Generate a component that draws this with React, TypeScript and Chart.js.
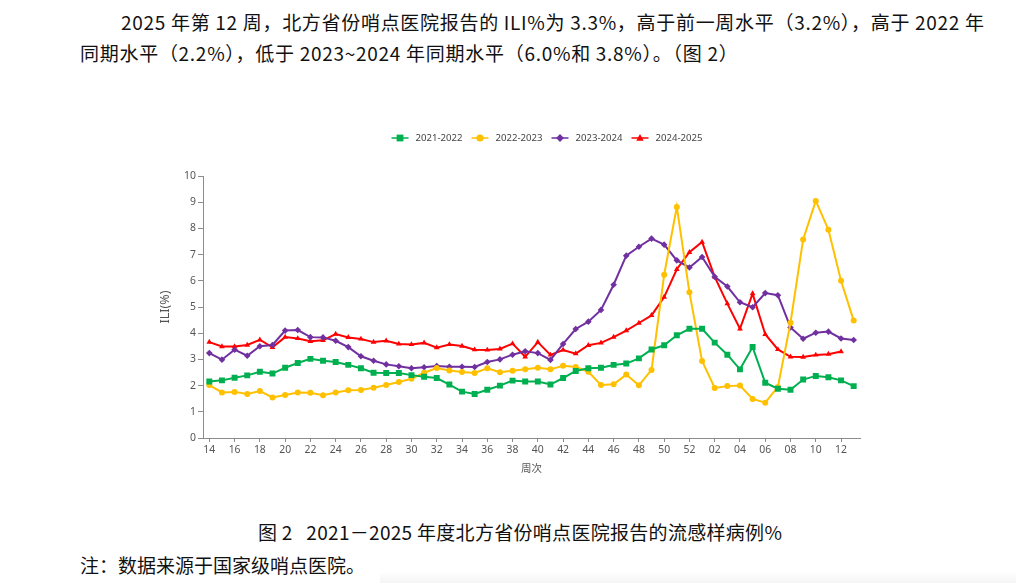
import React, { useEffect, useRef } from 'react';
import { Chart, registerables } from 'chart.js';

Chart.register(...registerables);

// Surveillance weeks: week 14 of the first year through week 13 of the next
const weeks = [
  '14', '15', '16', '17', '18', '19', '20', '21', '22', '23', '24', '25', '26',
  '27', '28', '29', '30', '31', '32', '33', '34', '35', '36', '37', '38', '39',
  '40', '41', '42', '43', '44', '45', '46', '47', '48', '49', '50', '51', '52',
  '01', '02', '03', '04', '05', '06', '07', '08', '09', '10', '11', '12', '13',
];

// ILI% by season
const ili2021 = [
  2.16, 2.2, 2.3, 2.39, 2.53, 2.46, 2.68, 2.86, 3.02, 2.95, 2.9, 2.79, 2.66,
  2.49, 2.48, 2.48, 2.4, 2.34, 2.29, 2.04, 1.77, 1.68, 1.84, 2.0, 2.19, 2.16,
  2.16, 2.04, 2.29, 2.56, 2.66, 2.68, 2.79, 2.84, 3.04, 3.38, 3.54, 3.92, 4.17,
  4.17, 3.64, 3.18, 2.62, 3.47, 2.11, 1.88, 1.84, 2.23, 2.37, 2.32, 2.2, 1.98,
];
const ili2022 = [
  2.02, 1.74, 1.76, 1.68, 1.79, 1.55, 1.64, 1.74, 1.73, 1.63, 1.74, 1.82, 1.83,
  1.92, 2.02, 2.14, 2.26, 2.49, 2.67, 2.58, 2.52, 2.48, 2.66, 2.51, 2.57, 2.62,
  2.68, 2.62, 2.76, 2.71, 2.53, 2.02, 2.05, 2.42, 2.01, 2.6, 6.23, 8.82, 5.56,
  2.94, 1.91, 1.98, 2.0, 1.49, 1.35, 1.95, 4.4, 7.58, 9.05, 7.95, 6.0, 4.48,
];
const ili2023 = [
  3.24, 2.99, 3.37, 3.14, 3.5, 3.55, 4.1, 4.12, 3.85, 3.84, 3.71, 3.47, 3.12,
  2.95, 2.81, 2.74, 2.66, 2.7, 2.75, 2.72, 2.72, 2.71, 2.9, 3.0, 3.18, 3.31,
  3.24, 2.98, 3.59, 4.16, 4.44, 4.89, 5.85, 6.96, 7.3, 7.61, 7.38, 6.78, 6.51,
  6.91, 6.15, 5.78, 5.18, 4.99, 5.53, 5.45, 4.22, 3.79, 4.02, 4.06, 3.8, 3.74,
];
const ili2024 = [
  3.66, 3.49, 3.49, 3.55, 3.75, 3.46, 3.85, 3.8, 3.69, 3.73, 3.97, 3.84, 3.78,
  3.66, 3.71, 3.59, 3.57, 3.63, 3.45, 3.57, 3.51, 3.37, 3.36, 3.4, 3.6, 3.1,
  3.66, 3.17, 3.36, 3.22, 3.54, 3.63, 3.85, 4.1, 4.39, 4.68, 5.38, 6.44, 7.09,
  7.48, 6.15, 5.13, 4.17, 5.51, 3.96, 3.38, 3.1, 3.09, 3.17, 3.2, 3.3, null,
];

const seasonLabels = ['2021-2022', '2022-2023', '2023-2024', '2024-2025'];
const seasonColors = ['#00B050', '#FFC000', '#7030A0', '#FF0000'];
const seasonMarkers = ['rect', 'circle', 'rectRot', 'triangle'];
const seasonMarkerSizes = [4.2, 3, 3.3, 3.3];

const yMin = 0;
const yMax = 10;
const yStep = 1;

const chartFont = '"Noto Sans", "Noto Sans CJK SC", sans-serif';
const cjkFont = '"Noto Sans CJK SC", "Noto Sans", sans-serif';

function drawLegendMarker(
  ctx: CanvasRenderingContext2D,
  style: string,
  x: number,
  y: number,
  r: number,
) {
  ctx.beginPath();
  if (style === 'rect') {
    const s = r * Math.SQRT1_2;
    ctx.rect(x - s, y - s, 2 * s, 2 * s);
  } else if (style === 'circle') {
    ctx.arc(x, y, r, 0, Math.PI * 2);
  } else if (style === 'rectRot') {
    ctx.moveTo(x, y - r);
    ctx.lineTo(x + r, y);
    ctx.lineTo(x, y + r);
    ctx.lineTo(x - r, y);
    ctx.closePath();
  } else {
    ctx.moveTo(x, y - r);
    ctx.lineTo(x + r * 0.95, y + r * 0.7);
    ctx.lineTo(x - r * 0.95, y + r * 0.7);
    ctx.closePath();
  }
  ctx.fill();
}

// Legend entries drawn as "line + marker + label", centred above the plot
const lineLegend = {
  id: 'lineLegend',
  afterDraw(chart: any) {
    const ctx: CanvasRenderingContext2D = chart.ctx;
    const sets = chart.data.datasets;
    const lineLen = 17;
    const textGap = 7;
    const itemGap = 9;
    ctx.save();
    ctx.font = `9.6px ${chartFont}`;
    ctx.textBaseline = 'middle';
    const widths = sets.map(
      (ds: any) => lineLen + textGap + ctx.measureText(ds.label).width,
    );
    const total =
      widths.reduce((a: number, b: number) => a + b, 0) +
      itemGap * (sets.length - 1);
    let x = chart.width / 2 - total / 2;
    const y = 18;
    sets.forEach((ds: any, i: number) => {
      ctx.strokeStyle = ds.borderColor;
      ctx.fillStyle = ds.borderColor;
      ctx.lineWidth = 1.5;
      ctx.beginPath();
      ctx.moveTo(x, y);
      ctx.lineTo(x + lineLen, y);
      ctx.stroke();
      drawLegendMarker(ctx, ds.pointStyle, x + lineLen / 2, y, ds.pointRadius + 0.6);
      ctx.fillStyle = '#444444';
      ctx.fillText(ds.label, x + lineLen + textGap, y + 0.5);
      x += widths[i] + itemGap;
    });
    ctx.restore();
  },
};

function IliChart() {
  const canvasRef = useRef<HTMLCanvasElement | null>(null);

  useEffect(() => {
    if (!canvasRef.current) return;
    const seriesData = [ili2021, ili2022, ili2023, ili2024];
    const chart = new Chart(canvasRef.current, {
      type: 'line',
      data: {
        labels: weeks,
        datasets: seriesData.map((values, i) => ({
          label: seasonLabels[i],
          data: values,
          borderColor: seasonColors[i],
          backgroundColor: seasonColors[i],
          pointBackgroundColor: seasonColors[i],
          pointBorderColor: seasonColors[i],
          pointStyle: seasonMarkers[i],
          pointRadius: seasonMarkerSizes[i],
          pointBorderWidth: 0,
          borderWidth: 2,
          tension: 0,
          spanGaps: false,
        })),
      },
      options: {
        animation: false,
        responsive: false,
        maintainAspectRatio: false,
        layout: { padding: { top: 56, right: 94, left: 0, bottom: 0 } },
        plugins: {
          legend: { display: false },
          tooltip: { enabled: false },
        },
        scales: {
          x: {
            type: 'category',
            offset: true,
            border: { display: true, color: '#8c8c8c', width: 1 },
            grid: {
              drawOnChartArea: false,
              drawTicks: true,
              tickLength: 4,
              color: (c: any) => (c.index % 2 === 0 ? '#8c8c8c' : 'rgba(0,0,0,0)'),
            },
            ticks: {
              autoSkip: false,
              maxRotation: 0,
              minRotation: 0,
              padding: 2,
              color: '#555555',
              font: { family: chartFont, size: 10.4 },
              callback: (_v: any, index: number) =>
                index % 2 === 0 ? weeks[index] : '',
            },
            title: {
              display: true,
              text: '周次',
              color: '#555555',
              font: { family: cjkFont, size: 10.5 },
              padding: { top: 0, bottom: 6 },
            },
            afterFit: (scale: any) => {
              scale.height = 42;
            },
          },
          y: {
            min: yMin,
            max: yMax,
            border: { display: true, color: '#8c8c8c', width: 1 },
            grid: { drawOnChartArea: false, drawTicks: true, tickLength: 5, color: '#8c8c8c' },
            ticks: {
              stepSize: yStep,
              padding: 2,
              color: '#555555',
              font: { family: chartFont, size: 10.4 },
            },
            title: {
              display: true,
              text: 'ILI(%)',
              color: '#555555',
              font: { family: chartFont, size: 12.5 },
              padding: { top: 18, bottom: 0 },
            },
            afterFit: (scale: any) => {
              scale.width = 63;
            },
          },
        },
      },
      plugins: [lineLegend],
    } as any);
    return () => chart.destroy();
  }, []);

  return (
    <canvas
      ref={canvasRef}
      width={814}
      height={360}
      style={{ position: 'absolute', left: 140, top: 120, width: 814, height: 360 }}
    />
  );
}

const bodyText: React.CSSProperties = {
  position: 'absolute',
  whiteSpace: 'nowrap',
  fontFamily: cjkFont,
  fontSize: 19,
  lineHeight: '30px',
  color: '#111111',
};

export default function App() {
  return (
    <div
      style={{
        position: 'fixed',
        left: 0,
        top: 0,
        width: 1016,
        height: 583,
        background: '#ffffff',
        overflow: 'hidden',
      }}
    >
      <div style={{ ...bodyText, left: 121, top: 7, letterSpacing: 0.7 }}>
        2025 年第 12 周，北方省份哨点医院报告的 ILI%为 3.3%，高于前一周水平（3.2%），高于 2022 年
      </div>
      <div style={{ ...bodyText, left: 80, top: 38, letterSpacing: 0.72 }}>
        同期水平（2.2%），低于 2023~2024 年同期水平（6.0%和 3.8%）。（图 2）
      </div>
      <IliChart />
      <div style={{ ...bodyText, left: 258, top: 517, letterSpacing: 0.3 }}>
        图 2&nbsp;&nbsp;&nbsp;2021－2025 年度北方省份哨点医院报告的流感样病例%
      </div>
      <div style={{ ...bodyText, left: 80, top: 550 }}>
        注：数据来源于国家级哨点医院。
      </div>
      <div
        style={{
          position: 'absolute',
          left: 380,
          right: 0,
          bottom: 0,
          height: 12,
          background: 'linear-gradient(to bottom, rgba(0,0,0,0), rgba(0,0,0,0.04))',
        }}
      />
    </div>
  );
}
